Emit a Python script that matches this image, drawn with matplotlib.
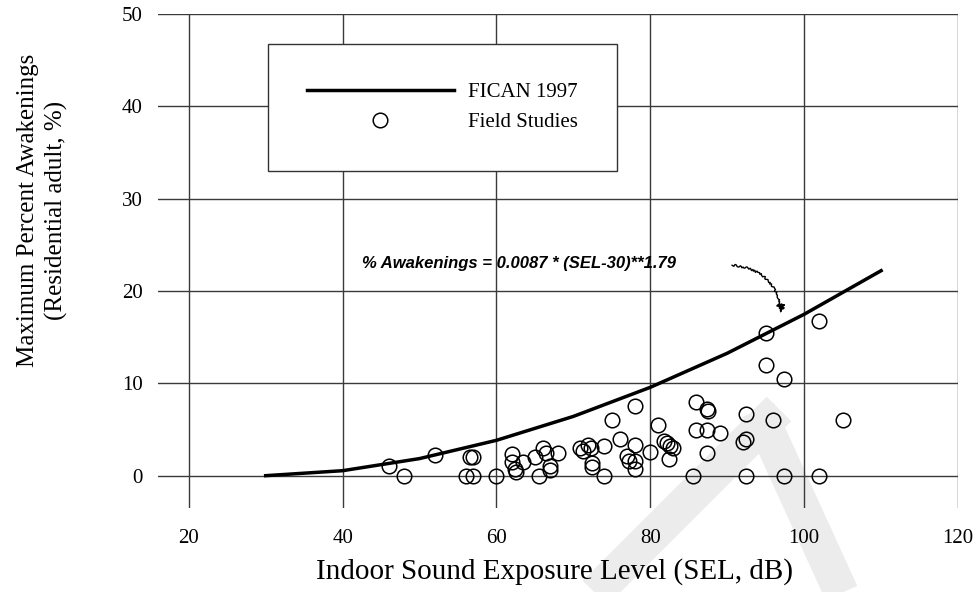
import numpy as np
import matplotlib
matplotlib.use("Agg")
import matplotlib.pyplot as plt
from matplotlib.lines import Line2D

# FICAN 1997 curve, % awakenings read at every 10 dB of indoor SEL
fican_sel = [30, 40, 50, 60, 70, 80, 90, 100, 110]
fican_pct = [0.0, 0.54, 1.85, 3.83, 6.42, 9.57, 13.26, 17.48, 22.2]

# field study results (indoor SEL in dB, max percent awakenings)
field_sel = [46, 48, 52, 56.5, 57, 56, 57, 60,
             62, 62, 62.4, 62.5, 63.5, 65, 65.5, 66, 66.4, 66.9, 66.9, 68,
             70.8, 71.3, 71.9, 72.3, 72.4, 72.4, 74, 74, 75, 76, 77, 77.2,
             78, 78, 78, 78,
             80, 81, 81.8, 82.2, 82.5, 82.9, 82.4, 85.5, 86, 86, 87.4, 87.5,
             87.4, 87.4, 89,
             92, 92.4, 92.4, 92.5, 95, 95, 96, 97.4, 97.4, 101.9, 101.9, 105]
field_pct = [1.0, 0.0, 2.2, 2.0, 2.0, 0.0, 0.0, 0.0,
             2.4, 1.5, 0.7, 0.4, 1.5, 2.0, 0.0, 3.0, 2.5, 1.0, 0.6, 2.5,
             3.0, 2.7, 3.3, 3.0, 1.4, 0.9, 0.0, 3.2, 6.0, 4.0, 2.1, 1.6,
             7.5, 3.3, 1.6, 0.7,
             2.6, 5.5, 3.8, 3.5, 3.2, 3.0, 1.8, 0.0, 8.0, 5.0, 7.2, 7.0,
             5.0, 2.5, 4.6,
             3.7, 4.0, 6.7, 0.0, 15.5, 12.0, 6.0, 10.5, 0.0, 16.8, 0.0, 6.0]

x_ticks = [20, 40, 60, 80, 100, 120]
y_ticks = [0, 10, 20, 30, 40, 50]

plt.rcParams['font.family'] = ['Liberation Serif', 'DejaVu Serif']

W, H = 977, 592
fig = plt.figure(figsize=(W / 100, H / 100), dpi=100)


def px(x, y):
    # pixel position -> figure fraction
    return x / W, 1 - y / H


# faint grey chevron printed behind the page
for (x0, y0), (x1, y1) in [((779, 409), (555, 633)), ((758, 410), (856, 625))]:
    (a, b), (c, d) = px(x0, y0), px(x1, y1)
    fig.add_artist(Line2D([a, c], [b, d], transform=fig.transFigure,
                          color='#ececec', linewidth=25,
                          solid_capstyle='butt', zorder=0))

ax = fig.add_axes([0.1617, 0.1419, 0.8189, 0.8345])
ax.patch.set_alpha(0)

ax.set_xlim(16, 120)
ax.set_ylim(-3.5, 50)
for s in ax.spines.values():
    s.set_visible(False)
ax.set_xticks(x_ticks)
ax.set_yticks(y_ticks)
ax.tick_params(length=0, labelsize=15)
ax.tick_params(axis='x', pad=15)
ax.tick_params(axis='y', pad=11)
ax.grid(True, color='#3a3a3a', linewidth=1.0)
ax.set_axisbelow(True)

ax.plot(fican_sel, fican_pct, color='black', linewidth=2.5,
        label='FICAN 1997', zorder=3)
ax.plot(field_sel, field_pct, linestyle='none', marker='o', markersize=10.5,
        markerfacecolor='none', markeredgecolor='black', markeredgewidth=1.1,
        label='Field Studies', zorder=4)

leg = ax.legend(loc='upper left', bbox_to_anchor=(0.1375, 0.939),
                borderaxespad=0, fontsize=15, handlelength=7.1,
                handletextpad=0.67, borderpad=1.85, labelspacing=0.5,
                fancybox=False, framealpha=1, edgecolor='#333333')
leg.get_frame().set_linewidth(1.0)

# equation label with a hand-drawn looking arrow to the curve
ax.text(42.5, 23.0, '% Awakenings = 0.0087 * (SEL-30)**1.79',
        ha='left', va='center', fontsize=12,
        family=['Liberation Sans', 'DejaVu Sans'],
        fontweight='bold', fontstyle='italic')
ann = ax.annotate('', xy=(97.1, 17.6), xytext=(90.6, 22.8),
                  arrowprops=dict(arrowstyle='-|>', color='black', lw=1.0,
                                  mutation_scale=12, shrinkA=0, shrinkB=0,
                                  connectionstyle='arc3,rad=-0.4'))
ann.arrow_patch.set_sketch_params(scale=1.0, length=4, randomness=3)

fig.text(0.568, 0.034, 'Indoor Sound Exposure Level (SEL, dB)',
         fontsize=21, ha='center', va='center')
fig.text(0.0435, 0.644, 'Maximum Percent Awakenings\n(Residential adult, %)',
         fontsize=18, ha='center', va='center', rotation=90,
         linespacing=1.3)

fig.savefig('out.png', dpi=100)
